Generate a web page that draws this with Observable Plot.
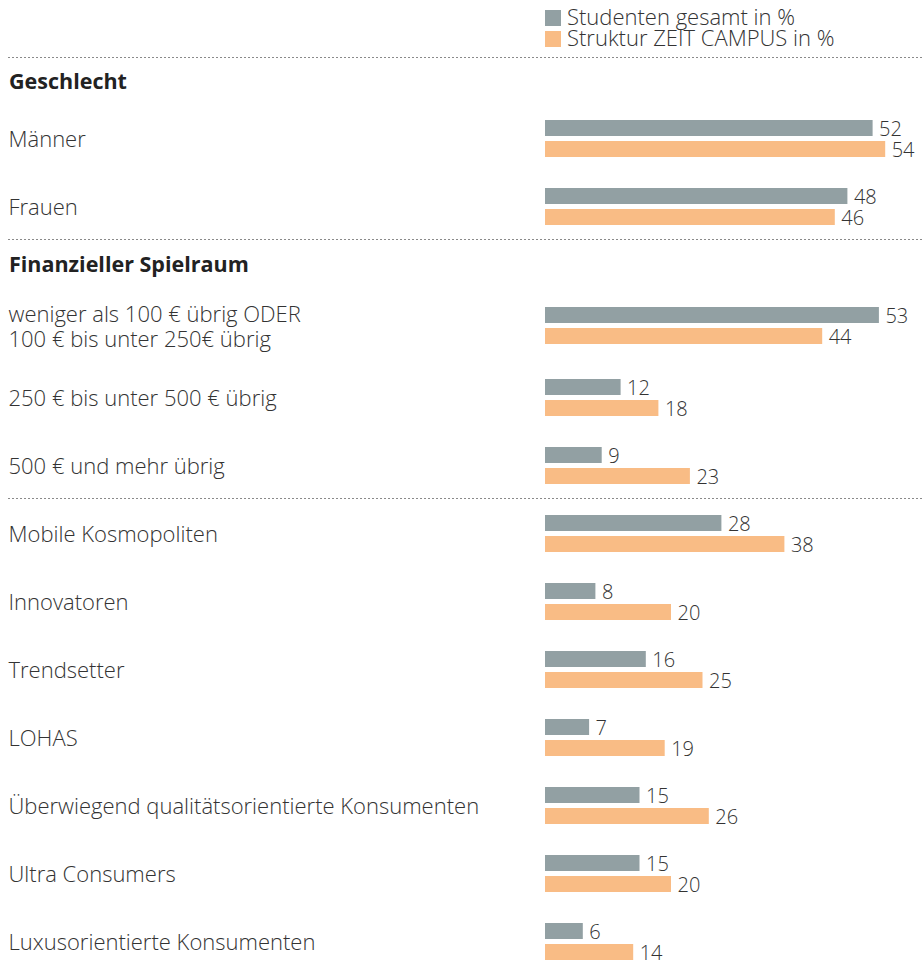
<!DOCTYPE html>
<html>
<head>
<meta charset="utf-8">
<script src="https://cdn.jsdelivr.net/npm/d3@7"></script>
<script src="https://cdn.jsdelivr.net/npm/@observablehq/plot@0.6"></script>
<style>
  html, body { margin: 0; padding: 0; background: #fff; overflow: hidden; }
  body { width: 924px; height: 970px; position: relative; font-family: "Open Sans", Roboto, "Liberation Sans", sans-serif; color: #333; }
  .abs { position: absolute; }
  .sep { position: absolute; left: 8px; right: 0; height: 1px;
         background-image: linear-gradient(to right, #8a8a8a 0 2px, transparent 2px 4px);
         background-size: 4px 1px; background-repeat: repeat-x; }
  .head { position: absolute; left: 9px; font-weight: 700; font-size: 21.5px; line-height: 21.5px; color: #222; white-space: nowrap; }
  .sw { position: absolute; left: 545px; width: 16px; height: 16px; }
  .legtext { position: absolute; left: 567px; top: 6px; font-size: 22px; font-weight: 300; line-height: 21px; white-space: nowrap; color: #333; }
</style>
</head>
<body>
<script>
// ---- data ----
const seriesNames = ["Studenten gesamt in %", "Struktur ZEIT CAMPUS in %"];
const seriesColors = ["#92a0a3", "#f9bc85"];

const sectionTitles = ["Geschlecht", "Finanzieller Spielraum", ""];

const geschlechtCategories = ["Männer", "Frauen"];
const geschlechtGesamt = [52, 48];
const geschlechtCampus = [54, 46];

const finanzCategories = [
  "weniger als 100 € übrig ODER\n100 € bis unter 250€ übrig",
  "250 € bis unter 500 € übrig",
  "500 € und mehr übrig"
];
const finanzGesamt = [53, 12, 9];
const finanzCampus = [44, 18, 23];

const typCategories = [
  "Mobile Kosmopoliten",
  "Innovatoren",
  "Trendsetter",
  "LOHAS",
  "Überwiegend qualitätsorientierte Konsumenten",
  "Ultra Consumers",
  "Luxusorientierte Konsumenten"
];
const typGesamt = [28, 8, 16, 7, 15, 15, 6];
const typCampus = [38, 20, 25, 19, 26, 20, 14];

// ---- layout ----
const body = document.body;
const FONT = "'Open Sans', Roboto, 'Liberation Sans', sans-serif";

// legend
seriesColors.forEach((c, i) => {
  const s = document.createElement("div");
  s.className = "sw";
  s.style.top = (10 + i * 21) + "px";
  s.style.background = c;
  body.appendChild(s);
});
const lt = document.createElement("div");
lt.className = "legtext";
lt.innerHTML = seriesNames.join("<br>");
body.appendChild(lt);

// separators
[57, 239, 498].forEach(y => {
  const s = document.createElement("div");
  s.className = "sep";
  s.style.top = y + "px";
  body.appendChild(s);
});

// headers
[[sectionTitles[0], 70], [sectionTitles[1], 253]].forEach(([t, top]) => {
  const h = document.createElement("div");
  h.className = "head";
  h.style.top = top + "px";
  h.textContent = t;
  body.appendChild(h);
});

function section(cats, gesamt, campus, top) {
  const rows = [];
  cats.forEach((c, i) => {
    rows.push({cat: c, series: seriesNames[0], value: gesamt[i]});
    rows.push({cat: c, series: seriesNames[1], value: campus[i]});
  });
  const n = cats.length;
  const chart = Plot.plot({
    width: 924,
    height: n * 68 + 1,
    marginLeft: 545,
    marginRight: 1,
    marginTop: 0,
    marginBottom: 0,
    style: {fontFamily: FONT, background: "transparent", overflow: "visible"},
    x: {domain: [0, 60], axis: null},
    y: {domain: seriesNames, axis: null, paddingInner: 5 / 21, paddingOuter: 2.5 / 21, round: false},
    fy: {domain: cats, axis: null, paddingInner: 26 / 68, paddingOuter: 13.5 / 68, round: false},
    color: {domain: seriesNames, range: seriesColors},
    marks: [
      Plot.barX(rows, {x: "value", y: "series", fy: "cat", fill: "series"}),
      Plot.text(rows, {x: "value", y: "series", fy: "cat", text: d => String(d.value),
        textAnchor: "start", dx: 6, dy: 1, fontSize: 20, fontWeight: 300, fill: "#333"}),
      Plot.text(cats, {fy: d => d, text: d => d, frameAnchor: "left", dx: -537,
        textAnchor: "start", fontSize: 22, fontWeight: 300, lineHeight: 25 / 22, fill: "#333"})
    ]
  });
  const wrap = document.createElement("div");
  wrap.className = "abs";
  wrap.style.left = "0px";
  wrap.style.top = top + "px";
  wrap.appendChild(chart);
  body.appendChild(wrap);
}

section(geschlechtCategories, geschlechtGesamt, geschlechtCampus, 104);
// first finance row sits slightly higher (two-line label), the others follow the regular pitch
section(finanzCategories.slice(0, 1), finanzGesamt.slice(0, 1), finanzCampus.slice(0, 1), 291);
section(finanzCategories.slice(1), finanzGesamt.slice(1), finanzCampus.slice(1), 363);
section(typCategories, typGesamt, typCampus, 499);
</script>
</body>
</html>
